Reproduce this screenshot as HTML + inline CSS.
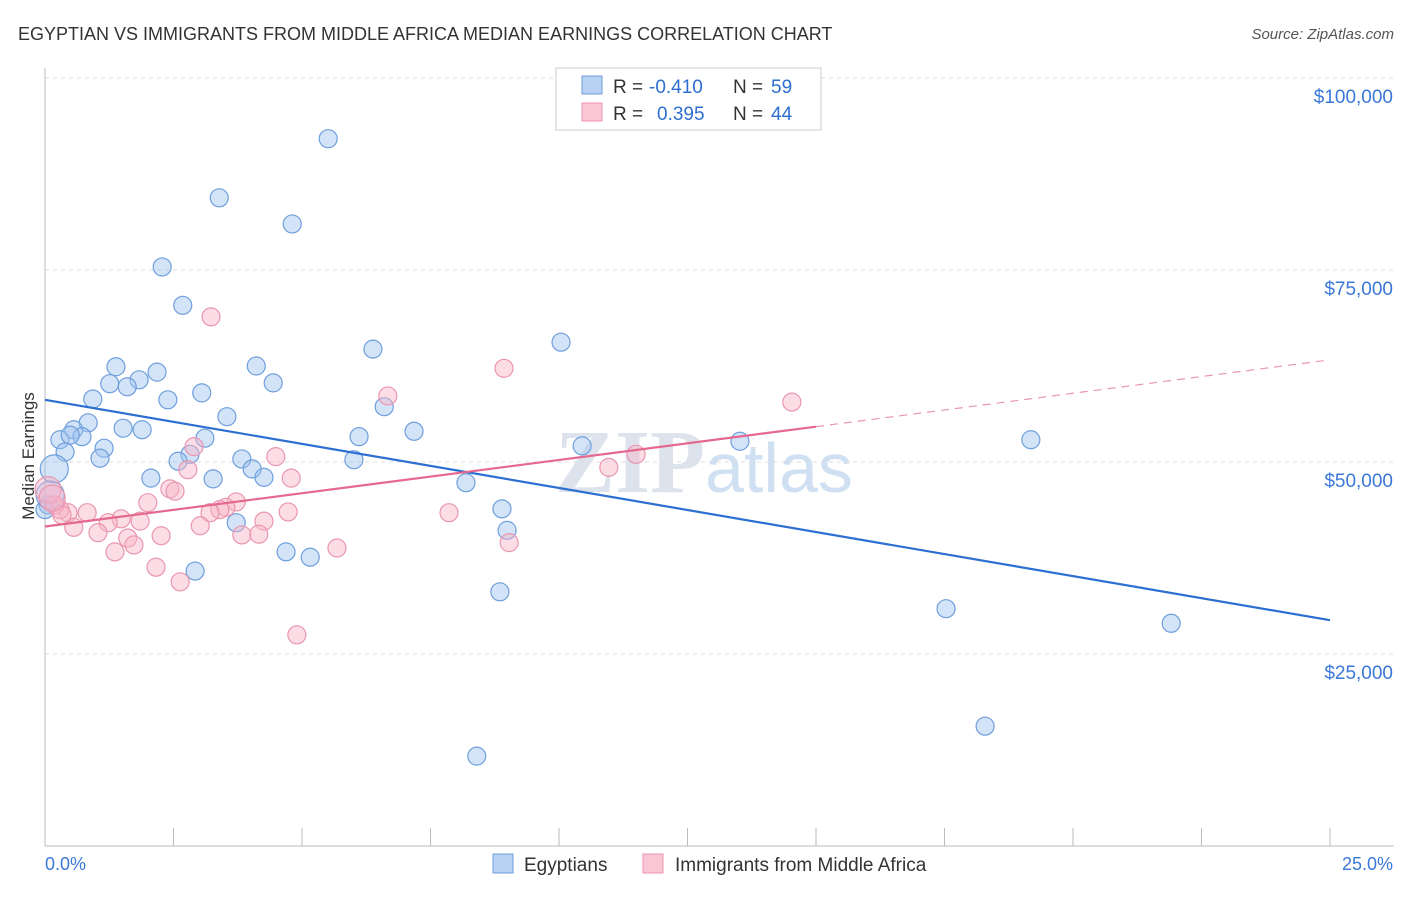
<!DOCTYPE html>
<html><head><meta charset="utf-8"><style>
body{margin:0;background:#fff;font-family:"Liberation Sans",sans-serif;}
</style></head><body>
<svg id="c" width="1406" height="892" xmlns="http://www.w3.org/2000/svg">
<text x="18" y="40" font-size="18" fill="#333">EGYPTIAN VS IMMIGRANTS FROM MIDDLE AFRICA MEDIAN EARNINGS CORRELATION CHART</text>
<text x="1394" y="39" font-size="15" fill="#555" text-anchor="end" font-style="italic">Source: ZipAtlas.com</text>
<text x="34" y="456" font-size="17" fill="#333" text-anchor="middle" transform="rotate(-90 34 456)">Median Earnings</text>
<text x="555" y="492" font-size="90" fill="#dde3ec" font-family="Liberation Serif,serif" font-weight="bold">ZIP<tspan fill="#cfe0f3" font-family="Liberation Sans,sans-serif" font-weight="normal" font-size="70">atlas</tspan></text>
<g id="grid"></g><g id="pts"></g><g id="lines"></g>
<g>
<rect x="556" y="68" width="265" height="62" fill="#fff" stroke="#ccc"/>
<rect x="582" y="76" width="20" height="18" fill="#b8d2f4" stroke="#6e9fdc"/>
<rect x="582" y="103" width="20" height="18" fill="#f9c6d5" stroke="#e996b0"/>
<text x="613" y="93" font-size="19" fill="#333">R =</text>
<text x="649" y="93" font-size="19" fill="#2d6fd1">-0.410</text>
<text x="733" y="93" font-size="19" fill="#333">N =</text>
<text x="771" y="93" font-size="19" fill="#2d6fd1">59</text>
<text x="613" y="120" font-size="19" fill="#333">R =</text>
<text x="657" y="120" font-size="19" fill="#2d6fd1">0.395</text>
<text x="733" y="120" font-size="19" fill="#333">N =</text>
<text x="771" y="120" font-size="19" fill="#2d6fd1">44</text>
</g>
<g>
<rect x="493" y="854" width="20" height="19" fill="#b8d2f4" stroke="#6e9fdc"/>
<text x="524" y="871" font-size="19" fill="#333">Egyptians</text>
<rect x="643" y="854" width="20" height="19" fill="#f9c6d5" stroke="#e996b0"/>
<text x="675" y="871" font-size="19" fill="#333">Immigrants from Middle Africa</text>
</g>
<text x="45" y="870" font-size="18" fill="#3b78d8">0.0%</text>
<text x="1393" y="870" font-size="18" fill="#3b78d8" text-anchor="end">25.0%</text>
</svg>
<script>
const yTicks=[25,50,75,100];
const yTickLabels=["$25,000","$50,000","$75,000","$100,000"];
const xTicks=[0,2.5,5,7.5,10,12.5,15,17.5,20,22.5,25];
const bluePx=[[328,139],[219,198],[292,224],[162,267],[183,305],[561,342],[373,349],[116,367],[256,366],[157,372],[139,380],[110,384],[127,387],[273,383],[202,393],[93,399],[168,400],[384,407],[227,417],[88,423],[123,428],[142,430],[74,430],[414,431],[82,437],[60,440],[359,437],[205,438],[740,441],[1031,440],[104,448],[65,452],[190,454],[100,458],[242,459],[178,461],[354,460],[252,469],[264,477],[151,478],[213,479],[466,483],[502,509],[236,523],[507,530],[582,446],[286,552],[310,557],[195,571],[500,592],[946,609],[1171,623],[985,726],[477,756],[48,505],[45,510],[70,435],[54,469],[50,495]];
const pinkPx=[[211,317],[504,368],[792,402],[388,396],[194,447],[276,457],[636,454],[609,467],[188,470],[291,478],[170,489],[175,491],[148,503],[236,502],[226,507],[220,510],[87,513],[68,513],[60,510],[121,519],[108,523],[140,521],[288,512],[449,513],[210,513],[264,521],[74,527],[98,533],[200,526],[128,538],[242,535],[134,545],[161,536],[115,552],[337,548],[509,543],[259,534],[156,567],[180,582],[297,635],[55,505],[62,515],[48,490],[52,498]];
const blueX=bluePx.map(p=>+((p[0]-45)/51.4).toFixed(2)), blueY=bluePx.map(p=>+((846-p[1])/7.68).toFixed(1));
const pinkX=pinkPx.map(p=>+((p[0]-45)/51.4).toFixed(2)), pinkY=pinkPx.map(p=>+((846-p[1])/7.68).toFixed(1));
const blueTrend=[[0,58.1],[25,29.4]];
const pinkTrend=[[0,41.6],[15,54.6],[25,63.3]];
const X=v=>45+v*51.4, Y=v=>846-v*7.68;
const NS="http://www.w3.org/2000/svg";
function mk(t,a,p){const e=document.createElementNS(NS,t);for(const k in a)e.setAttribute(k,a[k]);document.getElementById(p).appendChild(e);return e;}
let e=mk('line',{x1:45,y1:68,x2:45,y2:846,stroke:'#bbb'},'grid');


e=mk('line',{x1:45,y1:846,x2:1394,y2:846,stroke:'#bbb'},'grid');


yTicks.forEach((v,i)=>{
 e=mk('line',{x1:45,y1:Y(v),x2:1394,y2:Y(v),stroke:'#ddd','stroke-dasharray':'4,4'},'grid');
 
 
 e=mk('text',{x:1393,y:Y(v)+25,'font-size':19,fill:'#3b78d8','text-anchor':'end'},'grid');e.textContent=yTickLabels[i];
 
 
});
xTicks.forEach(v=>{e=mk('line',{x1:X(v),y1:828,x2:X(v),y2:846,stroke:'#bbb'},'grid');
 
 });
blueX.forEach((x,i)=>{e=mk('circle',{cx:X(x),cy:Y(blueY[i]),r:i>=bluePx.length-2?14:9,fill:'rgba(160,195,240,0.45)',stroke:'#6e9fdc','stroke-width':1.2},'pts');
 
 });
pinkX.forEach((x,i)=>{e=mk('circle',{cx:X(x),cy:Y(pinkY[i]),r:i>=pinkPx.length-2?13:9,fill:'rgba(248,180,200,0.45)',stroke:'#e996b0','stroke-width':1.2},'pts');
 
 });
e=mk('line',{x1:X(blueTrend[0][0]),y1:Y(blueTrend[0][1]),x2:X(blueTrend[1][0]),y2:Y(blueTrend[1][1]),stroke:'#2d6fd1','stroke-width':2.2},'lines');


e=mk('line',{x1:X(pinkTrend[0][0]),y1:Y(pinkTrend[0][1]),x2:X(pinkTrend[1][0]),y2:Y(pinkTrend[1][1]),stroke:'#e5688f','stroke-width':2.2},'lines');


e=mk('line',{x1:X(pinkTrend[1][0]),y1:Y(pinkTrend[1][1]),x2:X(pinkTrend[2][0]),y2:Y(pinkTrend[2][1]),stroke:'#e996b0','stroke-width':1.2,'stroke-dasharray':'8,6'},'lines');


</script>
</body></html>
